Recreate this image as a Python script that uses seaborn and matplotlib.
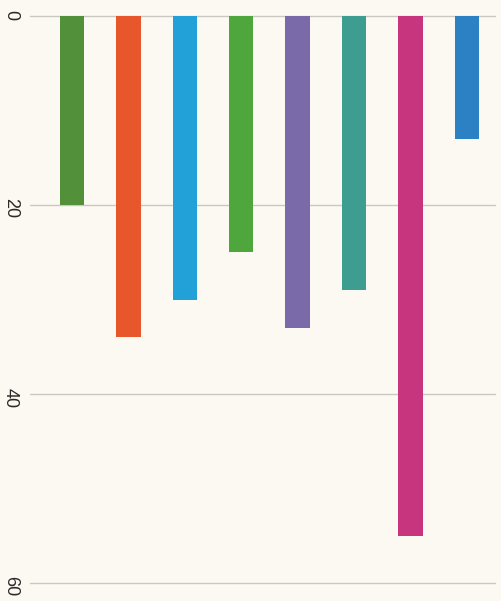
import matplotlib
matplotlib.use("Agg")
from matplotlib import pyplot as plt
import pandas as pd
import seaborn as sns

categories = ["A", "B", "C", "D", "E", "F", "G", "H"]
values = [20, 34, 30, 25, 33, 29, 55, 13]
colors = ["#52903a", "#e8562c", "#22a0d8", "#4ea63c", "#7b6aaa", "#3c9d90", "#c8357f", "#2c80c4"]
yticks = [0, 20, 40, 60]

df = pd.DataFrame({"cat": categories, "val": values})

bg = "#fbf9f1"
sns.set_style("white")
plt.rcParams["font.family"] = ["Liberation Sans", "DejaVu Sans"]
fig = plt.figure(figsize=(5.02, 6.01), dpi=100, facecolor=bg)
ax = fig.add_axes([30 / 502, 18 / 601, 465 / 502, 567 / 601])
ax.set_facecolor(bg)

sns.barplot(data=df, x="cat", y="val", hue="cat", palette=colors,
            legend=False, width=0.43, saturation=1, linewidth=0, ax=ax)

ax.set_ylim(60, 0)
ax.set_xlim(-0.745, 7.5)
ax.set_yticks(yticks)
ax.set_yticklabels([str(t) for t in yticks])
ax.tick_params(axis="y", labelrotation=-90, length=0, pad=8, labelsize=13, labelcolor="#2a2a2a")
ax.set_xticks([])
ax.set_xlabel("")
ax.set_ylabel("")
ax.grid(axis="y", color="#c8c8c4", linewidth=1)
for gl in ax.get_ygridlines():
    gl.set_clip_on(False)
ax.set_axisbelow(True)
for s in ax.spines.values():
    s.set_visible(False)

fig.savefig("out.png", dpi=100, facecolor=bg)
